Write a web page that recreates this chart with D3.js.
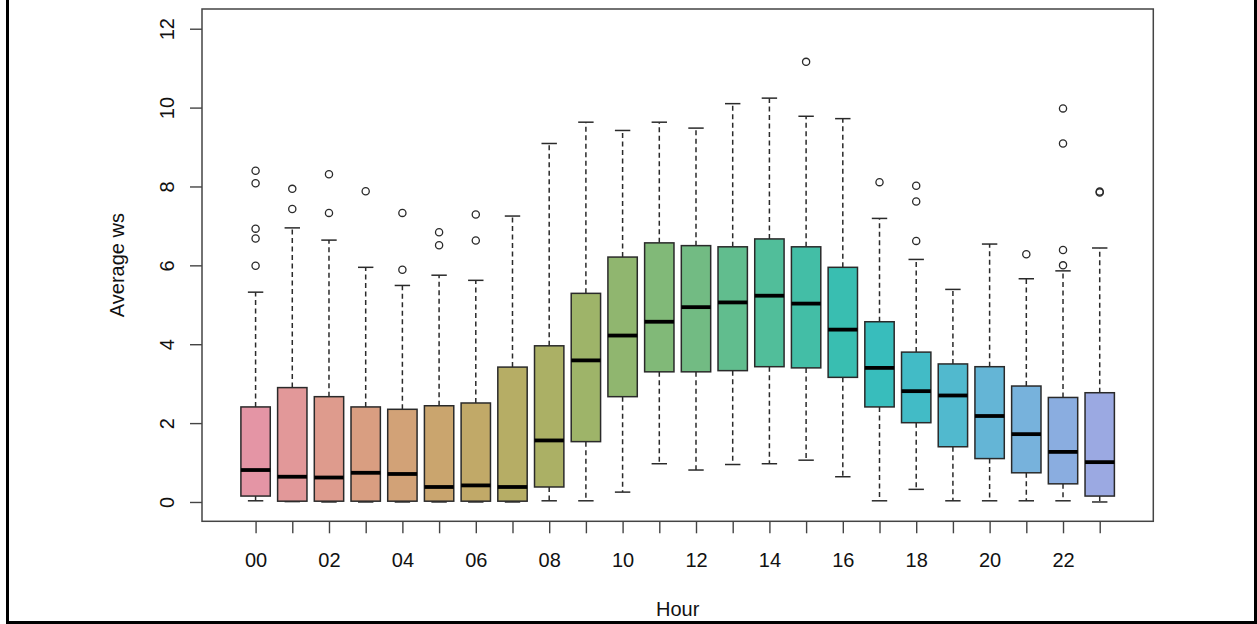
<!DOCTYPE html>
<html>
<head>
<meta charset="utf-8">
<script src="https://cdn.jsdelivr.net/npm/d3@7"></script>
<style>
  html, body { margin: 0; padding: 0; background: #fff; }
  svg { display: block; }
  text { font-family: "Liberation Sans", Arial, sans-serif; }
</style>
</head>
<body>
<svg id="chart" width="1257" height="624"></svg>
<script>
// ---- data ----
const hours = ["00","01","02","03","04","05","06","07","08","09","10","11",
               "12","13","14","15","16","17","18","19","20","21","22","23"];
const lowerWhisker = [0.03,0.01,0.00,0.00,0.00,0.00,0.00,0.00,0.03,0.03,0.25,0.97,
                      0.81,0.95,0.97,1.06,0.64,0.03,0.32,0.03,0.03,0.03,0.03,0.00];
const q1 = [0.15,0.02,0.02,0.02,0.02,0.02,0.02,0.02,0.38,1.53,2.67,3.30,
            3.30,3.33,3.43,3.40,3.16,2.41,2.01,1.40,1.10,0.74,0.46,0.15];
const medians = [0.81,0.64,0.62,0.74,0.71,0.38,0.42,0.38,1.56,3.59,4.22,4.57,
                 4.94,5.06,5.23,5.03,4.37,3.40,2.81,2.70,2.18,1.72,1.27,1.01];
const q3 = [2.41,2.90,2.67,2.41,2.35,2.44,2.51,3.42,3.96,5.29,6.21,6.57,
            6.50,6.47,6.67,6.47,5.95,4.57,3.80,3.50,3.43,2.94,2.65,2.77];
const upperWhisker = [5.32,6.95,6.64,5.95,5.49,5.75,5.62,7.25,9.09,9.63,9.42,9.63,
                      9.48,10.10,10.24,9.78,9.72,7.19,6.15,5.39,6.54,5.66,5.86,6.44];
const outliers = [[8.40,8.08,6.93,6.68,5.99],[7.94,7.43],[8.31,7.33],[7.88],[7.33,5.89],
                  [6.84,6.51],[7.29,6.63],[],[],[],[],[],
                  [],[],[],[11.16],[],[8.11],[8.02,7.62,6.62],[],[],[6.28],[9.98,9.09,6.39,6.00],[7.87,7.85]];
const yTicks = [0,2,4,6,8,10,12];
const xTitle = "Hour";
const yTitle = "Average ws";

// ---- palette: colorspace rainbow_hcl (c=50, l=70), hue step 360/32 ----
function hclHex(h, c, l) {
  const hr = h * Math.PI / 180;
  const U = c * Math.cos(hr), V = c * Math.sin(hr);
  const Xn = 95.047, Yn = 100, Zn = 108.883;
  const den = Xn + 15 * Yn + 3 * Zn;
  const un = 4 * Xn / den, vn = 9 * Yn / den;
  const Y = l > 7.999592 ? Yn * Math.pow((l + 16) / 116, 3) : Yn * l / 903.3;
  const u = U / (13 * l) + un, v = V / (13 * l) + vn;
  const X = 9 * Y * u / (4 * v);
  const Z = -X / 3 - 5 * Y + 3 * Y / v;
  const x = X / 100, y = Y / 100, z = Z / 100;
  const lin = [
    3.240479 * x - 1.537150 * y - 0.498535 * z,
    -0.969256 * x + 1.875992 * y + 0.041556 * z,
    0.055648 * x - 0.204043 * y + 1.057311 * z
  ];
  const g = lin.map(t => {
    const s = t <= 0.0031308 ? 12.92 * t : 1.055 * Math.pow(t, 1 / 2.4) - 0.055;
    return Math.max(0, Math.min(255, Math.round(s * 255)));
  });
  return d3.rgb(g[0], g[1], g[2]).formatHex();
}
const boxColors = hours.map((_, i) => hclHex(i * 360 / 32, 50, 70));

// ---- layout ----
const W = 1257, H = 624;
const plot = { left: 202, right: 1153.3, top: 9, bottom: 521.3 };
const svg = d3.select("#chart");
svg.append("rect").attr("width", W).attr("height", H).attr("fill", "#fff");

const x = d3.scaleLinear().domain([-0.46, 25.46]).range([plot.left, plot.right]);
const y = d3.scaleLinear().domain([-0.49, 12.5]).range([plot.bottom, plot.top]);
const unit = x(1) - x(0);
const boxW = 0.8 * unit, stapleW = 0.42 * unit;
const lineCol = "#2a2a2a";

const data = hours.map((h, i) => ({
  h, pos: i + 1, lo: lowerWhisker[i], q1: q1[i], med: medians[i], q3: q3[i],
  hi: upperWhisker[i], out: outliers[i], col: boxColors[i]
}));

const g = svg.append("g");
const bx = g.selectAll("g.box").data(data).join("g").attr("class", "box");

// whiskers (dashed)
bx.append("line")
  .attr("x1", d => x(d.pos)).attr("x2", d => x(d.pos))
  .attr("y1", d => y(d.q3)).attr("y2", d => y(d.hi))
  .attr("stroke", lineCol).attr("stroke-width", 1.5).attr("stroke-dasharray", "5,3.5");
bx.append("line")
  .attr("x1", d => x(d.pos)).attr("x2", d => x(d.pos))
  .attr("y1", d => y(d.q1)).attr("y2", d => y(d.lo))
  .attr("stroke", lineCol).attr("stroke-width", 1.5).attr("stroke-dasharray", "5,3.5");
// staples
["hi", "lo"].forEach(k => {
  bx.append("line")
    .attr("x1", d => x(d.pos) - stapleW / 2).attr("x2", d => x(d.pos) + stapleW / 2)
    .attr("y1", d => y(d[k])).attr("y2", d => y(d[k]))
    .attr("stroke", lineCol).attr("stroke-width", 1.5);
});
// boxes
bx.append("rect")
  .attr("x", d => x(d.pos) - boxW / 2).attr("width", boxW)
  .attr("y", d => y(d.q3)).attr("height", d => y(d.q1) - y(d.q3))
  .attr("fill", d => d.col).attr("stroke", lineCol).attr("stroke-width", 1.5);
// medians
bx.append("line")
  .attr("x1", d => x(d.pos) - boxW / 2).attr("x2", d => x(d.pos) + boxW / 2)
  .attr("y1", d => y(d.med)).attr("y2", d => y(d.med))
  .attr("stroke", "#000").attr("stroke-width", 3.8);
// outliers
bx.selectAll("circle").data(d => d.out.map(v => ({ pos: d.pos, v }))).join("circle")
  .attr("cx", d => x(d.pos)).attr("cy", d => y(d.v)).attr("r", 3.6)
  .attr("fill", "none").attr("stroke", lineCol).attr("stroke-width", 1.3);

// frame
svg.append("rect")
  .attr("x", plot.left).attr("y", plot.top)
  .attr("width", plot.right - plot.left).attr("height", plot.bottom - plot.top)
  .attr("fill", "none").attr("stroke", "#444").attr("stroke-width", 1.5);

// y axis
const yAxis = svg.append("g").attr("transform", `translate(${plot.left},0)`)
  .call(d3.axisLeft(y).tickValues(yTicks).tickSize(12).tickSizeOuter(0).tickFormat(d3.format("d")));
yAxis.select(".domain").remove();
yAxis.selectAll(".tick line").attr("stroke", "#444").attr("stroke-width", 1.4);
yAxis.selectAll(".tick text")
  .attr("x", null).attr("dy", null)
  .attr("transform", "translate(-28,0) rotate(-90)")
  .attr("text-anchor", "middle").attr("font-size", 20).attr("fill", "#111");

// x axis
const xAxis = svg.append("g").attr("transform", `translate(0,${plot.bottom})`)
  .call(d3.axisBottom(x).tickValues(data.map(d => d.pos)).tickSize(12).tickSizeOuter(0)
    .tickFormat((d, i) => (i % 2 === 0 ? hours[i] : "")));
xAxis.select(".domain").remove();
xAxis.selectAll(".tick line").attr("stroke", "#444").attr("stroke-width", 1.4);
xAxis.selectAll(".tick text")
  .attr("y", 45.4).attr("dy", null)
  .attr("font-size", 20).attr("fill", "#111");

// titles
svg.append("text").attr("x", (plot.left + plot.right) / 2).attr("y", 616)
  .attr("text-anchor", "middle").attr("font-size", 20).attr("fill", "#111").text(xTitle);
svg.append("text").attr("transform", `translate(124,${(plot.top + plot.bottom) / 2}) rotate(-90)`)
  .attr("text-anchor", "middle").attr("font-size", 20).attr("fill", "#111").text(yTitle);

// outer screenshot border
svg.append("path").attr("d", `M7.5,0 V${H - 1.5} H${W - 1.5} V0`)
  .attr("fill", "none").attr("stroke", "#000").attr("stroke-width", 3);
</script>
</body>
</html>
